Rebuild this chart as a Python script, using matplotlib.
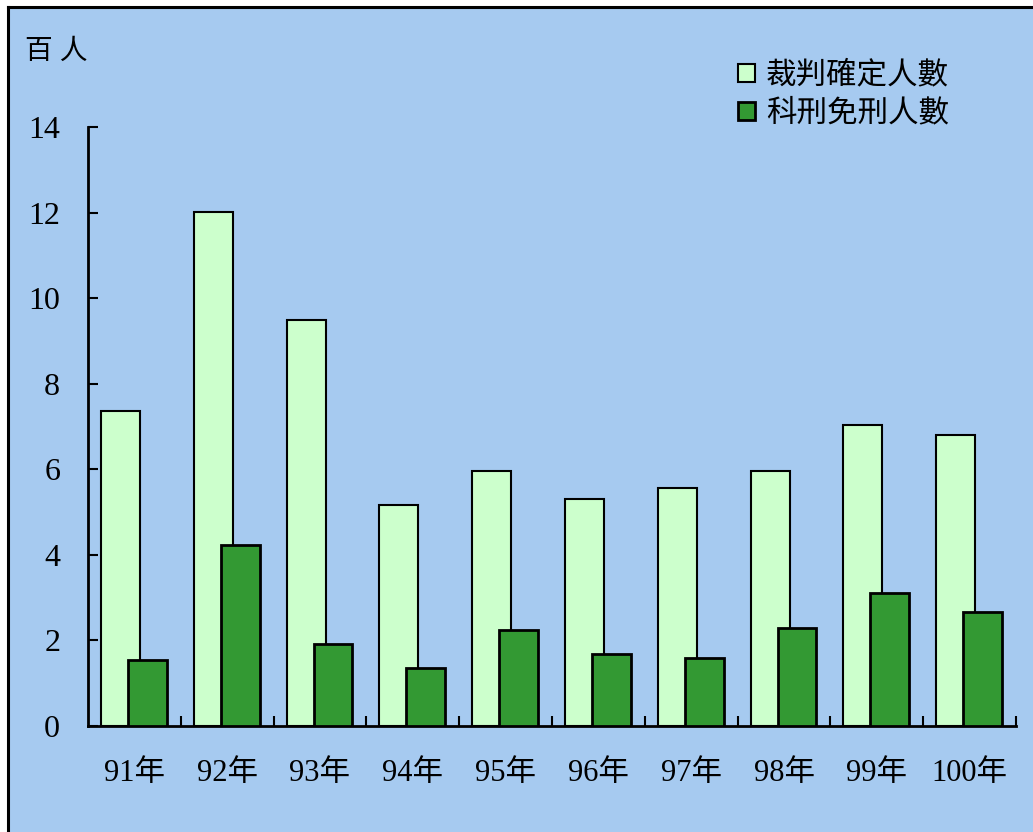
import numpy as np
import matplotlib.pyplot as plt
from matplotlib.patches import Rectangle
from matplotlib.lines import Line2D

years = ['91年', '92年', '93年', '94年', '95年', '96年', '97年', '98年', '99年', '100年']
decided = [7.37, 12.02, 9.5, 5.17, 5.97, 5.31, 5.56, 5.97, 7.04, 6.8]
sentenced = [1.54, 4.24, 1.91, 1.36, 2.24, 1.68, 1.59, 2.28, 3.12, 2.66]

plt.rcParams['font.family'] = ['Liberation Serif', 'Noto Sans CJK TC']

bg = '#A6CAF0'
fig = plt.figure(figsize=(10.33, 8.32), dpi=100, facecolor=bg)

# white margin on top/left with black frame line, as in the source image
fig.add_artist(Rectangle((0, 0), 7 / 1033, 1, transform=fig.transFigure, color='white', zorder=0))
fig.add_artist(Rectangle((0, 1 - 6 / 832), 1, 6 / 832, transform=fig.transFigure, color='white', zorder=0))
fig.add_artist(Line2D([8 / 1033, 8 / 1033], [0, 1 - 7 / 832], transform=fig.transFigure, color='black', lw=2.2))
fig.add_artist(Line2D([8 / 1033, 1], [1 - 7 / 832, 1 - 7 / 832], transform=fig.transFigure, color='black', lw=2.2))

ax = fig.add_axes([88 / 1033, 1 - 726 / 832, 928 / 1033, 599 / 832])
ax.set_facecolor(bg)

x = np.arange(len(years))
w = 0.42
ax.bar(x - 0.15, decided, w, color='#CCFFCC', edgecolor='black', linewidth=1.5,
       label='裁判確定人數', zorder=2)
ax.bar(x + 0.14, sentenced, w, color='#339933', edgecolor='black', linewidth=2,
       label='科刑免刑人數', zorder=3)

ax.set_xlim(-0.5, len(years) - 0.5)
ax.set_ylim(0, 14)
ax.set_yticks(range(0, 15, 2))
ax.tick_params(axis='y', direction='in', length=7, width=1.5, labelsize=23, pad=20)
ax.set_xticks(x)
ax.set_xticklabels(years, fontsize=22)
ax.tick_params(axis='x', length=0, pad=24)
# category boundary ticks pointing up
ax.set_xticks(np.arange(0.5, len(years), 1.0), minor=True)
ax.tick_params(axis='x', which='minor', direction='in', length=7, width=1.5)

for s in ['top', 'right']:
    ax.spines[s].set_visible(False)
ax.spines['left'].set_linewidth(2)
ax.spines['bottom'].set_linewidth(2)

fig.text(25 / 1033, 1 - 52 / 832, '百 人', fontsize=20, va='center', ha='left')

leg = ax.legend(loc='upper left', bbox_to_anchor=(0.671, 1.155), frameon=False,
                fontsize=22, handlelength=0.55, handleheight=0.55, handletextpad=0.35,
                labelspacing=0.3)

fig.savefig('out.png', dpi=100, facecolor=bg)
